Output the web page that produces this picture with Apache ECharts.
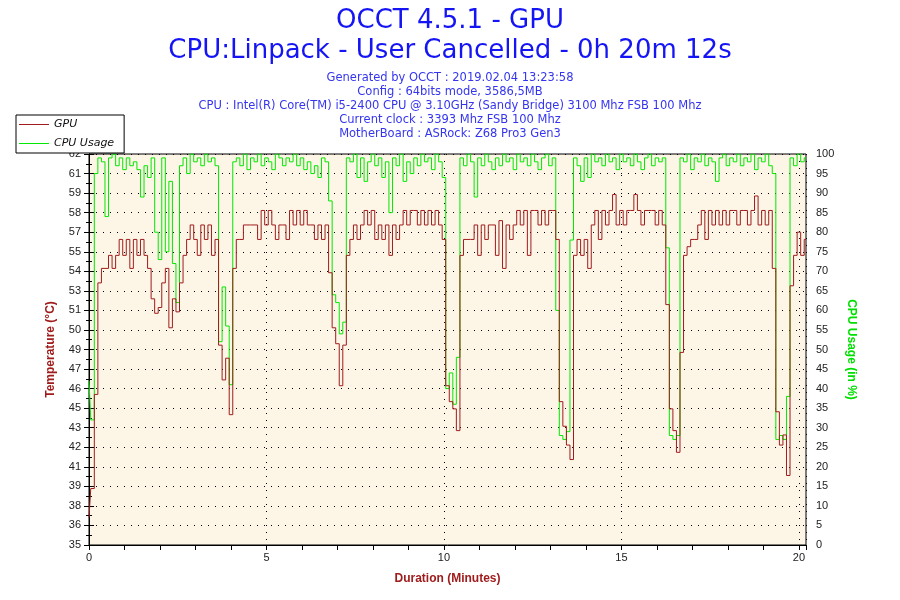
<!DOCTYPE html>
<html>
<head>
<meta charset="utf-8">
<title>OCCT 4.5.1 - GPU</title>
<script src="https://cdn.jsdelivr.net/npm/echarts/dist/echarts.min.js"></script>
<style>
  html, body { margin: 0; padding: 0; background: #fff; }
  #main { width: 900px; height: 600px; }
</style>
</head>
<body>
<div id="main"></div>
<script>
// sample times (minutes), one sample every 6 s
var minutes = [
  0.0, 0.1, 0.2, 0.3, 0.4, 0.5, 0.6, 0.7, 0.8, 0.9,
  1.0, 1.1, 1.2, 1.3, 1.4, 1.5, 1.6, 1.7, 1.8, 1.9,
  2.0, 2.1, 2.2, 2.3, 2.4, 2.5, 2.6, 2.7, 2.8, 2.9,
  3.0, 3.1, 3.2, 3.3, 3.4, 3.5, 3.6, 3.7, 3.8, 3.9,
  4.0, 4.1, 4.2, 4.3, 4.4, 4.5, 4.6, 4.7, 4.8, 4.9,
  5.0, 5.1, 5.2, 5.3, 5.4, 5.5, 5.6, 5.7, 5.8, 5.9,
  6.0, 6.1, 6.2, 6.3, 6.4, 6.5, 6.6, 6.7, 6.8, 6.9,
  7.0, 7.1, 7.2, 7.3, 7.4, 7.5, 7.6, 7.7, 7.8, 7.9,
  8.0, 8.1, 8.2, 8.3, 8.4, 8.5, 8.6, 8.7, 8.8, 8.9,
  9.0, 9.1, 9.2, 9.3, 9.4, 9.5, 9.6, 9.7, 9.8, 9.9,
  10.0, 10.1, 10.2, 10.3, 10.4, 10.5, 10.6, 10.7, 10.8, 10.9,
  11.0, 11.1, 11.2, 11.3, 11.4, 11.5, 11.6, 11.7, 11.8, 11.9,
  12.0, 12.1, 12.2, 12.3, 12.4, 12.5, 12.6, 12.7, 12.8, 12.9,
  13.0, 13.1, 13.2, 13.3, 13.4, 13.5, 13.6, 13.7, 13.8, 13.9,
  14.0, 14.1, 14.2, 14.3, 14.4, 14.5, 14.6, 14.7, 14.8, 14.9,
  15.0, 15.1, 15.2, 15.3, 15.4, 15.5, 15.6, 15.7, 15.8, 15.9,
  16.0, 16.1, 16.2, 16.3, 16.4, 16.5, 16.6, 16.7, 16.8, 16.9,
  17.0, 17.1, 17.2, 17.3, 17.4, 17.5, 17.6, 17.7, 17.8, 17.9,
  18.0, 18.1, 18.2, 18.3, 18.4, 18.5, 18.6, 18.7, 18.8, 18.9,
  19.0, 19.1, 19.2, 19.3, 19.4, 19.5, 19.6, 19.7, 19.8, 19.9,
  20.0, 20.1, 20.2
];

// GPU temperature (°C)
var gpuTemp = [
  37.5, 39.5, 46.0, 53.7, 54.7, 54.7, 55.6, 54.7, 55.6, 56.7,
  55.6, 56.7, 54.7, 56.7, 55.6, 56.7, 55.6, 54.7, 52.6, 51.6,
  52.0, 53.7, 54.7, 50.6, 52.6, 51.7, 53.7, 55.6, 56.7, 57.7,
  56.7, 55.6, 57.7, 56.7, 57.7, 55.6, 56.7, 49.4, 47.0, 48.5,
  44.6, 54.7, 56.7, 56.7, 57.7, 57.7, 57.7, 57.7, 56.7, 58.7,
  57.7, 58.7, 57.7, 56.7, 57.7, 57.7, 56.7, 58.7, 57.7, 58.7,
  57.7, 58.7, 57.7, 57.7, 56.7, 57.7, 56.7, 57.7, 54.4, 50.6,
  49.5, 46.6, 49.4, 55.6, 56.7, 57.7, 56.7, 57.7, 58.7, 57.7,
  58.7, 56.7, 57.7, 56.7, 57.7, 55.6, 57.7, 56.7, 57.7, 58.7,
  57.7, 58.7, 58.7, 57.7, 58.7, 57.7, 58.7, 57.7, 58.7, 57.7,
  56.7, 46.6, 45.5, 45.0, 43.5, 55.6, 56.7, 56.7, 56.7, 57.7,
  55.6, 57.7, 56.7, 57.7, 57.7, 55.6, 58.0, 54.7, 57.7, 56.7,
  57.7, 58.7, 57.7, 58.7, 55.6, 58.7, 58.7, 57.7, 58.7, 57.7,
  58.7, 58.7, 56.7, 45.5, 43.8, 42.5, 41.5, 55.6, 56.7, 55.6,
  56.7, 54.7, 57.7, 58.7, 56.7, 58.7, 57.7, 58.7, 59.8, 57.7,
  58.7, 57.7, 58.7, 58.7, 59.8, 58.7, 57.7, 58.7, 58.7, 58.7,
  57.7, 58.7, 57.7, 52.2, 45.0, 43.5, 42.0, 48.9, 55.6, 56.2,
  56.7, 56.7, 57.7, 58.7, 56.7, 58.7, 57.7, 58.7, 57.7, 58.7,
  57.7, 58.7, 58.7, 57.7, 58.7, 58.7, 57.7, 58.7, 59.7, 57.7,
  58.7, 57.7, 58.7, 54.7, 44.8, 42.5, 43.2, 40.4, 53.5, 55.6,
  57.2, 55.6, 56.7
];

// CPU usage (%)
var cpuUsage = [
  42, 32, 95, 99, 98, 84, 99, 100, 97, 99,
  96, 99, 97, 98, 96, 89, 97, 94, 99, 80,
  73, 99, 75, 93, 72, 62, 97, 99, 95, 100,
  98, 99, 97, 100, 98, 99, 97, 52, 66, 56,
  41, 98, 99, 97, 100, 96, 99, 98, 100, 97,
  99, 98, 96, 100, 99, 97, 99, 98, 100, 97,
  99, 96, 98, 95, 97, 94, 99, 98, 88, 64,
  62, 54, 57, 99, 98, 100, 94, 99, 93, 98,
  100, 97, 99, 94, 98, 85, 99, 97, 100, 93,
  98, 95, 99, 97, 100, 98, 99, 96, 100, 98,
  94, 40, 44, 36, 48, 99, 97, 100, 98, 89,
  99, 97, 100, 98, 96, 99, 97, 100, 98, 99,
  96, 100, 98, 99, 97, 100, 98, 96, 99, 100,
  97, 99, 60, 28, 27, 29, 78, 99, 97, 93,
  99, 94, 100, 98, 99, 97, 100, 98, 99, 96,
  100, 98, 99, 97, 100, 98, 96, 99, 100, 97,
  99, 98, 99, 76, 28, 27, 28, 99, 98, 100,
  96, 99, 98, 100, 97, 99, 98, 93, 99, 100,
  97, 99, 98, 100, 97, 99, 98, 100, 96, 99,
  98, 100, 97, 95, 27, 28, 27, 38, 99, 97,
  100, 98, 99
];

// left axis tick labels, as printed on the chart
var tempTickLabels = ['35', '36', '38', '39', '41', '42', '43', '45', '46', '47', '49',
  '50', '51', '53', '54', '55', '57', '58', '59', '61', '62'];
var tempMin = 35.6;
var tempStep = 1.35;
var tempMax = 62.6;

var infoLines = [
  'Generated by OCCT : 2019.02.04 13:23:58',
  'Config : 64bits mode, 3586,5MB',
  'CPU : Intel(R) Core(TM) i5-2400 CPU @ 3.10GHz (Sandy Bridge) 3100 Mhz FSB 100 Mhz',
  'Current clock : 3393 Mhz FSB 100 Mhz',
  'MotherBoard : ASRock: Z68 Pro3 Gen3'
];

var gpuData = minutes.map(function (t, i) { return [t, gpuTemp[i]]; });
var cpuData = minutes.map(function (t, i) { return [t, cpuUsage[i]]; });

var dotted = { color: '#000', width: 1, type: [1, 6] };
var tickFont = { fontFamily: 'Liberation Sans', fontSize: 11, color: '#222' };

var myChart = echarts.init(document.getElementById('main'));

var option = {
  animation: false,
  backgroundColor: '#fff',
  title: [
    {
      text: 'OCCT 4.5.1 - GPU', left: 'center', top: 3,
      textStyle: { fontFamily: 'DejaVu Sans', fontSize: 26, fontWeight: 'normal', color: '#1414f5' }
    },
    {
      text: 'CPU:Linpack - User Cancelled - 0h 20m 12s', left: 'center', top: 33,
      textStyle: { fontFamily: 'DejaVu Sans', fontSize: 26, fontWeight: 'normal', color: '#1414f5' }
    },
    {
      text: infoLines.join('\n'), left: 'center', top: 66,
      textStyle: { fontFamily: 'DejaVu Sans', fontSize: 11.5, lineHeight: 14, fontWeight: 'normal', color: '#3535f0' }
    }
  ],
  legend: {
    orient: 'vertical', left: 16, top: 115,
    padding: [4, 10, 4, 3], itemGap: 8,
    itemWidth: 30, itemHeight: 1,
    backgroundColor: '#fff', borderColor: '#000', borderWidth: 1,
    textStyle: { fontFamily: 'DejaVu Sans', fontSize: 11, fontStyle: 'italic', color: '#111' },
    data: [{ name: 'GPU', icon: 'rect' }, { name: 'CPU Usage', icon: 'rect' }]
  },
  grid: {
    left: 89, right: 94, top: 154, bottom: 55,
    show: true, backgroundColor: '#fdf5e6', borderColor: '#000', borderWidth: 1
  },
  xAxis: [
    {
      type: 'value', min: 0, max: 20.2, interval: 1,
      name: 'Duration (Minutes)', nameLocation: 'middle', nameGap: 28,
      nameTextStyle: { fontFamily: 'Liberation Sans', fontSize: 12, fontWeight: 'bold', color: '#a01c1c' },
      axisLine: { lineStyle: { color: '#000' } },
      axisTick: { length: 5, lineStyle: { color: '#000' } },
      axisLabel: Object.assign({ margin: 7, formatter: function (v) {
        return Math.abs(v - Math.round(v / 5) * 5) < 1e-6 ? String(Math.round(v)) : '';
      } }, tickFont),
      splitLine: { show: false }
    },
    {
      type: 'value', min: 0, max: 20.2, interval: 5, position: 'bottom',
      axisLine: { show: false }, axisTick: { show: false }, axisLabel: { show: false },
      splitLine: { show: true, lineStyle: dotted }
    }
  ],
  yAxis: [
    {
      type: 'value', min: tempMin, max: tempMax, interval: tempStep, position: 'left',
      name: 'Temperature (°C)', nameLocation: 'middle', nameGap: 32,
      nameTextStyle: { fontFamily: 'Liberation Sans', fontSize: 12, fontWeight: 'bold', color: '#a01c1c' },
      axisLine: { show: true, lineStyle: { color: '#000' } },
      axisTick: { show: true, length: 5, lineStyle: { color: '#000' } },
      minorTick: { show: true, splitNumber: 2, length: 3, lineStyle: { color: '#000' } },
      axisLabel: Object.assign({ margin: 8, formatter: function (v) {
        var idx = Math.round((v - tempMin) / tempStep);
        return tempTickLabels[idx] || '';
      } }, tickFont),
      splitLine: { show: false }
    },
    {
      type: 'value', min: 0, max: 100, interval: 5, position: 'right',
      name: 'CPU Usage (in %)', nameLocation: 'middle', nameGap: 37, nameRotate: -90,
      nameTextStyle: { fontFamily: 'Liberation Sans', fontSize: 12, fontWeight: 'bold', color: '#00e000' },
      axisLine: { show: true, lineStyle: { color: '#000' } },
      axisTick: { show: true, length: 5, lineStyle: { color: '#000' } },
      minorTick: { show: true, splitNumber: 2, length: 3, lineStyle: { color: '#000' } },
      axisLabel: Object.assign({ margin: 10 }, tickFont),
      splitLine: { show: true, lineStyle: dotted }
    }
  ],
  series: [
    {
      name: 'GPU', type: 'line', xAxisIndex: 0, yAxisIndex: 0,
      data: gpuData, step: 'middle', symbol: 'none', showSymbol: false, z: 3,
      color: '#a01c1c', lineStyle: { width: 1, color: '#a01c1c' }
    },
    {
      name: 'CPU Usage', type: 'line', xAxisIndex: 0, yAxisIndex: 1,
      data: cpuData, step: 'middle', symbol: 'none', showSymbol: false, z: 2,
      color: '#00ea00', lineStyle: { width: 1, color: '#00ea00' }
    }
  ]
};

myChart.setOption(option);
</script>
</body>
</html>
